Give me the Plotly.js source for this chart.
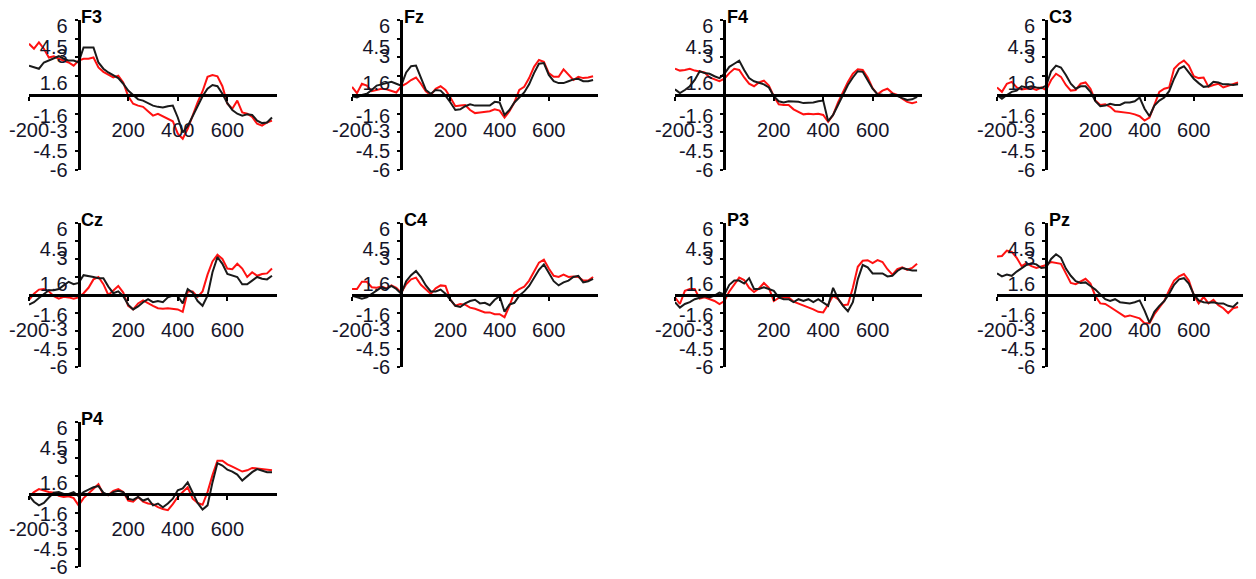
<!DOCTYPE html>
<html>
<head>
<meta charset="utf-8">
<script src="https://cdn.plot.ly/plotly-3.0.1.min.js"></script>
<style>html,body{margin:0;padding:0;background:#fff;}#chart{width:1256px;height:579px;}</style>
</head>
<body>
<div id="chart"></div>
<script>
// time in ms
const timeMs = [-200,-180,-160,-140,-120,-100,-80,-60,-40,-20,0,20,40,60,80,100,120,140,160,180,200,220,240,260,280,300,320,340,360,380,400,420,440,460,480,500,520,540,560,580,600,620,640,660,680,700,720,740,760,780];

const channels = ['F3','Fz','F4','C3','Cz','C4','P3','Pz','P4'];

const f3Black = [2.35,2.2,2.1,2.6,2.75,2.9,3.1,2.9,2.75,2.75,2.6,3.8,3.8,3.8,2.6,2.1,1.8,1.55,1.35,0.9,0.35,0.0,-0.35,-0.45,-0.65,-0.85,-0.95,-1.0,-0.9,-0.85,-1.8,-3.0,-2.5,-1.7,-0.8,-0.1,0.5,0.8,0.7,0.1,-0.65,-1.2,-1.5,-1.65,-1.55,-1.6,-2.05,-2.25,-2.2,-1.8];
const f3Red   = [4.1,3.7,4.2,3.7,3.0,3.1,2.9,2.75,2.6,2.35,2.75,2.9,2.9,3.0,2.2,1.85,1.6,1.4,1.55,1.0,-0.1,-0.7,-0.85,-0.95,-1.3,-1.65,-1.5,-1.7,-1.85,-2.1,-3.1,-3.5,-2.7,-1.6,-0.6,0.3,1.45,1.6,1.5,0.7,-0.7,-1.1,-0.45,-1.4,-1.5,-1.75,-2.3,-2.45,-2.2,-2.05];

const fzBlack = [-0.1,-0.2,0.0,0.1,0.4,0.75,0.85,0.95,1.05,0.9,0.75,1.8,2.3,2.35,1.3,0.4,0.1,0.4,0.35,-0.05,-0.6,-1.2,-1.15,-0.9,-0.75,-0.85,-0.85,-0.85,-0.85,-0.55,-0.6,-1.6,-1.2,-0.6,-0.2,0.2,0.85,1.75,2.5,2.55,1.6,1.1,0.95,0.95,1.1,1.25,1.3,1.1,1.1,1.2];
const fzRed   = [0.65,0.15,0.9,0.75,0.3,0.4,0.5,0.45,0.3,0.2,0.7,0.9,1.2,1.4,0.9,0.3,0.0,0.5,0.7,0.4,-0.2,-0.9,-0.85,-0.8,-1.2,-1.45,-1.4,-1.35,-1.3,-1.15,-1.25,-1.8,-1.3,-0.6,0.4,0.65,1.35,2.25,2.8,2.65,1.75,1.45,1.45,2.05,1.6,1.2,1.45,1.35,1.4,1.5];

const f4Black = [0.45,0.15,0.4,0.7,1.2,1.9,1.75,1.7,1.5,1.35,1.7,2.25,2.5,2.75,2.0,1.35,1.1,0.95,0.85,0.6,-0.1,-0.5,-0.6,-0.5,-0.5,-0.55,-0.65,-0.65,-0.6,-0.5,-0.45,-2.1,-1.6,-0.8,0.0,0.8,1.4,1.9,1.85,1.2,0.5,0.05,0.0,-0.05,0.1,-0.1,-0.25,-0.4,-0.35,-0.15];
const f4Red   = [2.1,1.95,2.0,2.1,1.95,1.85,1.8,1.4,1.25,1.1,1.3,1.75,2.1,2.0,1.4,0.9,0.7,1.0,1.15,0.75,-0.1,-0.75,-0.8,-0.8,-1.15,-1.35,-1.55,-1.5,-1.55,-1.5,-1.6,-2.15,-1.6,-0.6,0.25,1.05,1.7,2.05,2.0,1.4,0.55,0.05,0.35,0.5,0.15,0.0,-0.3,-0.55,-0.65,-0.55];

const c3Black = [0.0,-0.3,0.0,0.25,0.35,0.7,0.6,0.7,0.6,0.55,0.75,1.9,2.35,2.2,1.6,0.9,0.5,0.7,0.7,0.25,-0.5,-0.9,-0.85,-0.7,-0.8,-0.8,-0.6,-0.6,-0.5,-0.2,-1.1,-1.7,-0.85,-0.45,-0.2,0.3,1.3,2.1,2.3,1.8,1.3,0.95,0.65,0.7,1.05,1.0,0.85,0.85,0.8,0.85];
const c3Red   = [0.6,0.25,0.9,1.05,0.6,0.45,0.5,0.55,0.4,0.6,0.4,1.2,1.7,1.45,0.8,0.35,0.4,0.9,1.0,0.5,-0.45,-0.8,-0.75,-0.95,-1.3,-1.35,-1.35,-1.45,-1.55,-1.7,-2.05,-1.8,-0.8,0.25,0.5,0.6,2.1,2.5,2.75,2.35,1.5,1.35,1.4,0.65,0.8,0.9,0.6,0.75,0.9,1.0];

const czBlack = [-0.8,-0.6,-0.25,0.1,0.4,0.4,0.5,0.8,1.1,0.9,1.0,1.65,1.6,1.5,1.4,1.4,0.7,0.15,0.3,-0.1,-0.8,-1.2,-0.95,-0.6,-0.35,-0.6,-0.5,-0.6,-0.2,-0.05,-0.1,-0.7,0.5,0.2,-0.5,-0.9,-0.05,1.9,3.15,2.6,1.75,1.6,1.5,0.9,0.9,1.2,1.5,1.35,1.3,1.6];
const czRed   = [-0.4,0.1,0.45,0.5,0.3,-0.1,-0.3,-0.15,-0.2,-0.3,-0.2,0.15,0.6,1.3,1.5,0.9,0.0,0.4,0.75,0.2,-0.9,-1.2,-0.7,-0.45,-0.7,-0.9,-1.1,-1.15,-1.1,-1.15,-1.2,-1.4,0.3,0.3,-0.15,0.3,1.7,2.8,3.35,3.0,2.2,2.15,2.6,2.2,1.5,1.9,1.6,1.75,1.8,2.2];

const c4Black = [-0.05,-0.2,-0.3,-0.2,0.1,0.35,0.65,0.5,0.75,0.5,0.1,1.15,1.65,2.0,1.5,0.8,0.3,0.3,0.45,0.1,-0.45,-0.9,-1.0,-0.7,-0.5,-0.4,-0.7,-0.65,-0.85,-0.4,-0.1,-1.4,-0.8,-0.65,-0.05,0.3,0.75,1.4,2.1,2.55,1.9,1.15,0.8,1.05,1.2,1.5,1.6,1.05,1.15,1.35];
const c4Red   = [0.5,0.5,1.1,1.1,0.65,0.6,0.7,0.55,0.8,0.6,0.2,0.9,1.3,1.45,0.85,0.45,0.1,0.55,0.8,0.75,-0.4,-0.9,-0.75,-0.8,-1.05,-1.15,-1.3,-1.45,-1.45,-1.6,-1.6,-1.85,-0.9,0.2,0.5,0.7,1.2,2.0,2.7,2.95,2.2,1.6,1.5,1.7,1.5,1.55,1.5,1.2,1.2,1.5];

const p3Black = [-0.6,-1.05,-0.75,-0.6,-0.35,-0.2,-0.1,-0.2,-0.05,0.2,0.05,0.85,1.2,1.2,0.95,1.4,0.5,0.5,0.65,0.5,0.35,-0.2,-0.35,-0.35,-0.6,-0.35,-0.5,-0.35,-0.6,-0.35,-0.6,-0.9,0.6,-0.3,-0.9,-1.35,-0.6,1.3,2.5,2.3,1.8,1.8,1.8,1.55,1.6,2.0,2.25,2.15,2.05,2.05];
const p3Red   = [-0.2,-0.75,0.35,0.5,0.5,-0.3,-0.2,-0.35,-0.5,-0.75,-0.5,0.3,0.85,1.45,1.25,0.6,0.25,0.55,1.0,0.6,-0.5,-0.25,-0.2,-0.2,-0.55,-0.7,-0.85,-1.0,-1.2,-1.4,-1.45,-0.8,-0.05,-0.35,-0.85,-0.8,0.6,2.35,2.85,2.9,2.65,2.9,2.75,2.15,1.7,2.15,2.3,2.1,2.25,2.6];

const pzBlack = [1.8,1.55,1.7,1.6,1.95,2.25,2.5,2.65,2.55,2.25,2.3,3.0,3.4,3.1,2.2,1.6,1.15,1.0,1.05,0.75,0.45,0.05,-0.35,-0.5,-0.35,-0.6,-0.65,-0.7,-0.6,-0.45,-1.3,-2.3,-1.4,-0.9,-0.5,0.1,0.85,1.3,1.4,0.95,0.05,-0.45,-0.6,-0.65,-0.6,-0.7,-0.7,-0.9,-1.0,-0.6];
const pzRed   = [3.2,3.25,3.7,3.6,3.1,2.4,2.65,2.4,2.25,2.35,2.5,2.75,2.65,2.6,1.8,1.0,0.9,1.15,1.35,0.95,-0.1,-0.7,-0.75,-1.0,-1.25,-1.55,-1.8,-1.7,-1.8,-1.95,-2.35,-2.35,-1.6,-1.05,-0.5,0.4,1.2,1.55,1.75,1.2,0.0,-0.7,-0.15,-0.7,-0.4,-0.85,-1.1,-1.5,-1.1,-1.0];

const p4Black = [-0.1,-0.6,-0.9,-0.7,-0.25,0.15,0.2,0.05,0.05,0.2,-0.15,0.2,0.4,0.6,0.7,0.15,-0.05,0.2,0.3,0.2,-0.35,-0.45,-0.2,-0.5,-0.35,-0.9,-0.75,-1.05,-0.75,-0.35,0.35,0.5,1.0,0.1,-0.7,-1.25,-0.9,1.0,2.6,2.4,2.05,1.9,1.65,1.15,1.5,1.85,2.1,2.0,1.85,1.85];
const p4Red   = [-0.2,0.2,0.45,0.3,0.2,0.15,-0.1,-0.2,-0.15,-0.3,-0.9,-0.3,0.1,0.45,0.85,0.0,-0.05,0.3,0.45,0.2,-0.5,-0.6,-0.2,-0.6,-0.75,-0.8,-1.05,-1.2,-1.3,-0.8,-0.2,0.2,0.6,-0.35,-0.7,-0.85,0.2,1.6,2.8,2.8,2.5,2.3,2.1,1.9,2.0,2.2,2.15,2.1,2.0,2.0];

const blackSeries = [f3Black, fzBlack, f4Black, c3Black, czBlack, c4Black, p3Black, pzBlack, p4Black];
const redSeries   = [f3Red, fzRed, f4Red, c3Red, czRed, c4Red, p3Red, pzRed, p4Red];

// axis tick labels
const xTickVals = [-200, 200, 400, 600];
const xTickText = ['-200', '200', '400', '600'];
const yTickText = ['6', '4.5', '3', '1.6', '-1.6', '-3', '-4.5', '-6'];
const yTickAt   = [5.5, 3.85, 3.1, 0.95, -1.65, -2.85, -4.5, -6];

const colDomains = [[0.0231,0.2205],[0.2803,0.4761],[0.5374,0.7341],[0.7938,0.9896]];
const rowDomains = [[0.7064,0.9655],[0.3661,0.6149],[0.0207,0.2712]];

const tickFont = {family: '"Liberation Sans", Arial, sans-serif', size: 20, color: '#15152a'};
const titleFont = {family: '"Liberation Sans", Arial, sans-serif', size: 18, color: '#000'};

const data = [];
const layout = {
  width: 1256, height: 579,
  margin: {l: 0, r: 0, t: 0, b: 0},
  paper_bgcolor: '#fff', plot_bgcolor: 'rgba(0,0,0,0)',
  showlegend: false,
  annotations: []
};

channels.forEach((ch, i) => {
  const k = i + 1;
  const row = Math.floor(i / 4), col = i % 4;
  const xd = colDomains[col], yd = rowDomains[row];
  const xs = k === 1 ? 'x' : 'x' + k;
  const ys = k === 1 ? 'y' : 'y' + k;
  data.push({x: timeMs, y: redSeries[i], xaxis: xs, yaxis: ys, type: 'scatter', mode: 'lines',
             line: {color: '#ff1111', width: 2}, hoverinfo: 'skip'});
  data.push({x: timeMs, y: blackSeries[i], xaxis: xs, yaxis: ys, type: 'scatter', mode: 'lines',
             line: {color: '#1a1a1a', width: 2}, hoverinfo: 'skip'});
  layout['xaxis' + (k === 1 ? '' : k)] = {
    domain: xd, range: [-200, 800], anchor: 'free', position: (yd[0] + yd[1]) / 2,
    showgrid: false, zeroline: false, showline: true, linecolor: '#000', linewidth: 3,
    ticks: 'outside', ticklen: 4, tickwidth: 2, tickcolor: '#000',
    tickmode: 'array', tickvals: xTickVals, ticktext: xTickText,
    ticklabelstandoff: 12, tickfont: tickFont, fixedrange: true
  };
  layout['yaxis' + (k === 1 ? '' : k)] = {
    domain: yd, range: [-6, 6], anchor: 'free', position: xd[0] + 0.2 * (xd[1] - xd[0]),
    showgrid: false, zeroline: false, showline: true, linecolor: '#000', linewidth: 3,
    ticks: '', tickmode: 'array', tickvals: yTickAt, ticktext: yTickText,
    ticklabelstandoff: 6, tickfont: tickFont, fixedrange: true,
    minor: {tickmode: 'linear', tick0: 0, dtick: 1.5, ticks: 'outside', ticklen: 3, tickwidth: 2, tickcolor: '#000'}
  };
  layout.annotations.push({
    text: '<b>' + ch + '</b>', xref: xs, yref: ys, x: 3, y: 5.9,
    xanchor: 'left', yanchor: 'middle', yshift: 4, showarrow: false, font: titleFont
  });
});

Plotly.newPlot('chart', data, layout, {staticPlot: true, displayModeBar: false});
</script>
</body>
</html>
